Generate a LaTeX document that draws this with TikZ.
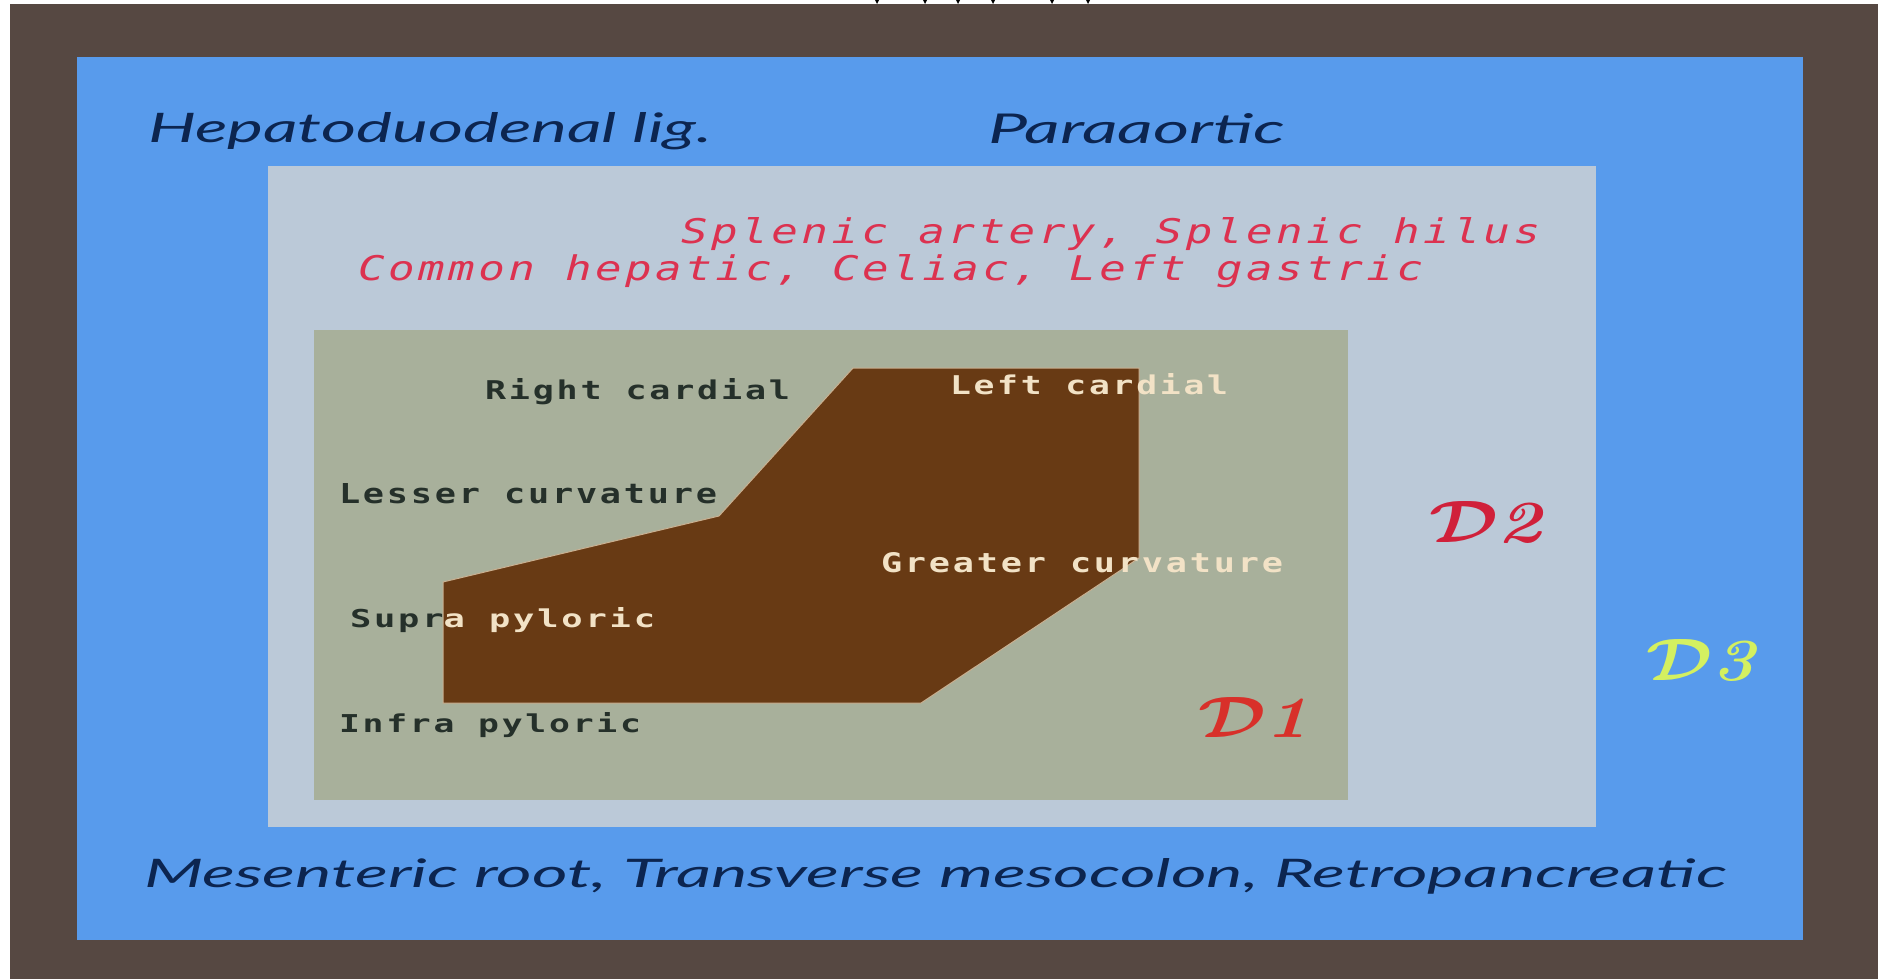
\documentclass[tikz,border=0pt]{standalone}
\usepackage{fontspec}
\usepackage{graphicx}
\newfontfamily\labelsans{Lato}
\newfontfamily\monotext[LetterSpace=8]{DejaVu Sans Mono}
% scale a piece of text to a given width and height
\newcommand{\fitto}[3]{\resizebox{#1}{#2}{#3}}

\definecolor{framebrown}{HTML}{564842}
\definecolor{outerblue}{HTML}{589BEC}
\definecolor{midgrey}{HTML}{BBC9D8}
\definecolor{innergreen}{HTML}{A8B09B}
\definecolor{stomach}{HTML}{683A14}
\definecolor{navytext}{HTML}{0C2550}
\definecolor{pinkred}{HTML}{DC3250}
\definecolor{darklbl}{HTML}{25302A}
\definecolor{creamlbl}{HTML}{F2E2C6}
\definecolor{donecol}{HTML}{D8302A}
\definecolor{dtwocol}{HTML}{D0203A}
\definecolor{dthreecol}{HTML}{D4F060}

\tikzset{
  lbl/.style={inner sep=0pt, outer sep=0pt, anchor=base west},
}

\begin{document}
\begin{tikzpicture}[x=1pt,y=-1pt]
\useasboundingbox (0,0) rectangle (1878,979);

% page background and frame
\fill[white] (0,0) rectangle (1878,979);
\fill[framebrown] (10,4) rectangle (1878,979);

% remnants of a heading cut off at the top edge
\foreach \xx in {877,925,958,993,1052,1088}
  \fill[black] (\xx-2,0) -- (\xx+2,0) -- (\xx,4) -- cycle;
\fill[black] (1014,0) arc[start angle=180, end angle=360, x radius=9, y radius=3.5] -- (1028,0) arc[start angle=360, end angle=180, x radius=5, y radius=1.5] -- cycle;

% nested regions D3, D2, D1
\fill[outerblue] (77,57) rectangle (1803,940);
\fill[midgrey] (268,166) rectangle (1596,827);
\fill[innergreen] (314,330) rectangle (1348,800);

% stomach outline
\fill[stomach, draw=creamlbl!70!stomach, line width=1pt, line join=miter]
  (853,368) -- (1139,368) -- (1139,558) -- (921,703) -- (443,703)
  -- (443,582) -- (719,516) -- cycle;

% outer labels
\node[lbl] (hep) at (148,142) {\fitto{564pt}{30pt}{\color{navytext}\labelsans\itshape Hepatoduodenal lig.}};
\node[lbl] (para) at (988,143) {\fitto{297pt}{30pt}{\color{navytext}\labelsans\itshape Paraaortic}};
\node[lbl] (mes) at (144,887) {\fitto{1582pt}{29pt}{\color{navytext}\labelsans\itshape Mesenteric root, Transverse mesocolon, Retropancreatic}};

% second tier labels
\node[lbl] (spl) at (681,243) {\fitto{859pt}{26pt}{\color{pinkred}\monotext\itshape Splenic artery, Splenic hilus}};
\node[lbl] (com) at (358,280) {\fitto{1065pt}{26pt}{\color{pinkred}\monotext\itshape Common hepatic, Celiac, Left gastric}};

% first tier labels
\node[lbl] (rc) at (485,399) {\fitto{305pt}{21pt}{\color{darklbl}\monotext\bfseries Right cardial}};
\node[lbl] (lc) at (950,394) {\fitto{278pt}{21pt}{\color{creamlbl}\monotext\bfseries Left cardial}};
\node[lbl] (lesser) at (339,503) {\fitto{378pt}{20pt}{\color{darklbl}\monotext\bfseries Lesser curvature}};
\node[lbl] (greater) at (881,572) {\fitto{402pt}{20pt}{\color{creamlbl}\monotext\bfseries Greater curvature}};
\node[lbl] (supra) at (350,627) {\fitto{305pt}{20pt}{\monotext\bfseries\color{darklbl}Supr\color{creamlbl}a pyloric}};
\node[lbl] (infra) at (339,732) {\fitto{302pt}{20pt}{\color{darklbl}\monotext\bfseries Infra pyloric}};

% region names
\node[lbl] (done) at (1198,737) {\fitto{111pt}{40pt}{\color{donecol}\boldmath$\mathcal{D}$\textbf{\textit{1}}}};
\node[lbl] (dtwo) at (1429,542) {\fitto{115pt}{41pt}{\color{dtwocol}\boldmath$\mathcal{D}$\textbf{\textit{2}}}};
\node[lbl] (dthree) at (1646,680) {\fitto{111pt}{41pt}{\color{dthreecol}\boldmath$\mathcal{D}$\textbf{\textit{3}}}};
\end{tikzpicture}
\end{document}
